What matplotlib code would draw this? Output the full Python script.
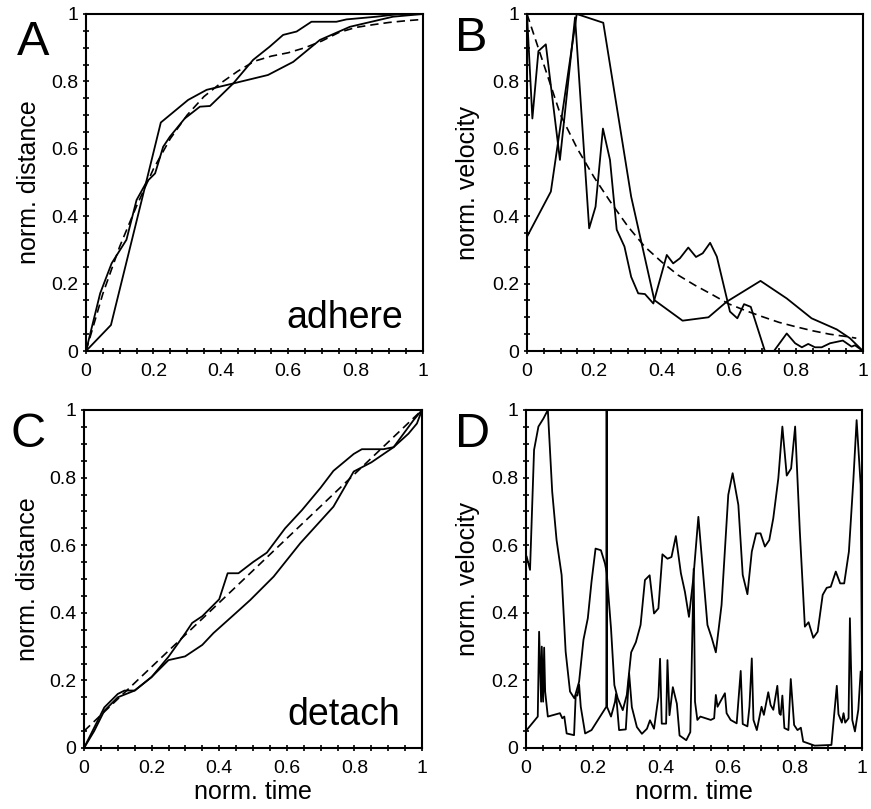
import matplotlib
matplotlib.use('Agg')
import matplotlib.pyplot as plt
from matplotlib.ticker import MultipleLocator, FixedLocator, FixedFormatter

plt.rcParams['font.family'] = ['Liberation Sans', 'DejaVu Sans']

# ---- data ----
tick_vals = [0, 0.2, 0.4, 0.6, 0.8, 1.0]
tick_labels = ['0', '0.2', '0.4', '0.6', '0.8', '1']

# A: adhere, normalised distance
a1_t = [0, 0.074, 0.18, 0.222, 0.303, 0.358, 0.437, 0.54, 0.615, 0.694, 0.783, 0.911, 1.0]
a1_d = [0, 0.077, 0.507, 0.678, 0.745, 0.775, 0.794, 0.819, 0.858, 0.923, 0.962, 0.992, 1.0]
a2_t = [0, 0.042, 0.076, 0.12, 0.15, 0.18, 0.205, 0.229, 0.249, 0.293, 0.338, 0.368, 0.397,
        0.437, 0.496, 0.545, 0.585, 0.625, 0.669, 0.743, 0.773, 0.862, 0.931, 1.0]
a2_d = [0, 0.171, 0.26, 0.33, 0.448, 0.502, 0.527, 0.606, 0.636, 0.69, 0.725, 0.727, 0.755,
        0.794, 0.864, 0.903, 0.938, 0.948, 0.977, 0.977, 0.984, 0.992, 1.0, 1.0]
a_fit_t = [0, 0.05, 0.1, 0.15, 0.2, 0.25, 0.3, 0.35, 0.4, 0.45, 0.5, 0.55, 0.6, 0.65, 0.7,
           0.75, 0.8, 0.85, 0.9, 0.95, 1.0]
a_fit_d = [0, 0.17, 0.31, 0.43, 0.54, 0.63, 0.7, 0.755, 0.795, 0.83, 0.86, 0.875, 0.885, 0.9,
           0.92, 0.945, 0.96, 0.968, 0.975, 0.98, 0.984]

# B: adhere, normalised velocity
b1_t = [0, 0.016, 0.034, 0.056, 0.098, 0.143, 0.185, 0.204, 0.226, 0.247, 0.267, 0.29, 0.31,
        0.331, 0.351, 0.376, 0.416, 0.435, 0.455, 0.48, 0.503, 0.523, 0.545, 0.565, 0.604,
        0.626, 0.646, 0.666, 0.708, 0.735, 0.773, 0.798, 0.818, 0.837, 0.857, 0.877, 0.902,
        0.94, 0.966, 0.976, 1.0]
b1_v = [1.0, 0.69, 0.89, 0.91, 0.567, 0.99, 0.364, 0.428, 0.66, 0.567, 0.36, 0.31, 0.22,
        0.171, 0.169, 0.141, 0.285, 0.26, 0.275, 0.307, 0.279, 0.29, 0.321, 0.28, 0.117,
        0.097, 0.139, 0.131, 0.0, 0.0, 0.052, 0.023, 0.011, 0.021, 0.011, 0.011, 0.023,
        0.031, 0.013, 0.017, 0.0]
b2_t = [0, 0.071, 0.148, 0.227, 0.31, 0.379, 0.463, 0.54, 0.594, 0.695, 0.773, 0.847, 0.922,
        0.961, 1.0]
b2_v = [0.339, 0.473, 1.0, 0.974, 0.458, 0.151, 0.09, 0.10, 0.146, 0.208, 0.156, 0.097, 0.064,
        0.038, 0.0]
b_fit_t = [0, 0.05, 0.1, 0.15, 0.2, 0.25, 0.3, 0.35, 0.4, 0.45, 0.5, 0.55, 0.6, 0.65, 0.7,
           0.75, 0.8, 0.85, 0.9, 0.95, 0.98]
b_fit_v = [1.0, 0.85, 0.7, 0.6, 0.515, 0.44, 0.37, 0.31, 0.265, 0.225, 0.195, 0.168, 0.14,
           0.12, 0.102, 0.085, 0.072, 0.06, 0.05, 0.043, 0.038]

# C: detach, normalised distance
c1_t = [0, 0.03, 0.06, 0.1, 0.12, 0.15, 0.2, 0.25, 0.3, 0.32, 0.35, 0.4, 0.425, 0.457, 0.5,
        0.541, 0.595, 0.645, 0.7, 0.738, 0.798, 0.822, 0.886, 0.916, 0.975, 1.0]
c1_d = [0, 0.06, 0.12, 0.16, 0.17, 0.17, 0.21, 0.27, 0.34, 0.37, 0.39, 0.44, 0.517, 0.517,
        0.55, 0.578, 0.65, 0.704, 0.77, 0.82, 0.87, 0.884, 0.884, 0.89, 0.97, 1.0]
c2_t = [0, 0.03, 0.06, 0.1, 0.15, 0.2, 0.25, 0.299, 0.35, 0.383, 0.45, 0.492, 0.561, 0.64,
        0.738, 0.798, 0.85, 0.916, 0.96, 0.985, 1.0]
c2_d = [0, 0.05, 0.11, 0.15, 0.17, 0.21, 0.26, 0.271, 0.305, 0.34, 0.40, 0.438, 0.507, 0.606,
        0.714, 0.818, 0.845, 0.89, 0.93, 0.96, 1.0]
c_fit_t = [0, 1.0]
c_fit_d = [0.05, 1.0]

# D: detach, normalised velocity
d1_t = [0.002, 0.012, 0.024, 0.037, 0.052, 0.065, 0.078, 0.091, 0.106, 0.118, 0.131, 0.144,
        0.158, 0.171, 0.184, 0.195, 0.207, 0.223, 0.235, 0.24, 0.253, 0.263, 0.273, 0.288,
        0.3, 0.313, 0.327, 0.341, 0.354, 0.368, 0.381, 0.394, 0.406, 0.421, 0.433, 0.446,
        0.461, 0.473, 0.485, 0.498, 0.513, 0.54, 0.553, 0.565, 0.582, 0.602, 0.615, 0.632,
        0.645, 0.659, 0.672, 0.685, 0.698, 0.711, 0.724, 0.736, 0.751, 0.763, 0.776, 0.789,
        0.801, 0.815, 0.83, 0.841, 0.855, 0.868, 0.883, 0.895, 0.907, 0.922, 0.935, 0.947,
        0.961, 0.974, 0.984, 0.996, 1.0]
d1_v = [0.566, 0.527, 0.882, 0.951, 0.975, 1.0, 0.758, 0.615, 0.512, 0.285, 0.167, 0.147,
        0.196, 0.32, 0.384, 0.492, 0.59, 0.585, 0.546, 0.52, 0.354, 0.186, 0.147, 0.112,
        0.157, 0.283, 0.313, 0.364, 0.497, 0.511, 0.398, 0.413, 0.573, 0.56, 0.565, 0.627,
        0.517, 0.462, 0.388, 0.502, 0.684, 0.364, 0.325, 0.283, 0.423, 0.749, 0.813, 0.719,
        0.512, 0.455, 0.581, 0.635, 0.635, 0.596, 0.615, 0.68, 0.798, 0.951, 0.806, 0.827,
        0.951, 0.64, 0.359, 0.372, 0.326, 0.344, 0.453, 0.474, 0.477, 0.522, 0.487, 0.487,
        0.581, 0.788, 0.97, 0.778, 0.226]
d2_t = [0.002, 0.035, 0.039, 0.045, 0.047, 0.051, 0.054, 0.057, 0.065, 0.101, 0.108, 0.114,
        0.121, 0.143, 0.148, 0.153, 0.158, 0.163, 0.176, 0.195, 0.239, 0.24, 0.241, 0.253,
        0.265, 0.268, 0.277, 0.297, 0.307, 0.315, 0.33, 0.345, 0.36, 0.369, 0.381, 0.394,
        0.399, 0.404, 0.417, 0.421, 0.427, 0.437, 0.449, 0.457, 0.477, 0.489, 0.499, 0.503,
        0.51, 0.519, 0.55, 0.56, 0.565, 0.57, 0.592, 0.597, 0.609, 0.627, 0.639, 0.645,
        0.659, 0.665, 0.672, 0.677, 0.687, 0.701, 0.708, 0.721, 0.728, 0.736, 0.748, 0.754,
        0.758, 0.763, 0.769, 0.781, 0.788, 0.798, 0.808, 0.818, 0.825, 0.859, 0.909, 0.925,
        0.93, 0.94, 0.945, 0.95, 0.96, 0.964, 0.971, 0.979, 0.989, 0.996]
d2_v = [0.053, 0.093, 0.344, 0.137, 0.3, 0.137, 0.297, 0.167, 0.093, 0.103, 0.088, 0.093,
        0.043, 0.038, 0.157, 0.155, 0.188, 0.122, 0.043, 0.053, 0.122, 1.0, 0.122, 0.093,
        0.137, 0.16, 0.053, 0.055, 0.22, 0.121, 0.062, 0.042, 0.057, 0.082, 0.057, 0.151,
        0.264, 0.072, 0.072, 0.26, 0.097, 0.18, 0.131, 0.037, 0.023, 0.047, 0.53, 0.137,
        0.083, 0.093, 0.083, 0.088, 0.157, 0.122, 0.162, 0.103, 0.083, 0.073, 0.228, 0.071,
        0.064, 0.122, 0.265, 0.083, 0.053, 0.122, 0.098, 0.165, 0.127, 0.113, 0.184, 0.103,
        0.098, 0.155, 0.059, 0.053, 0.204, 0.068, 0.053, 0.06, 0.019, 0.007, 0.009, 0.184,
        0.1, 0.075, 0.103, 0.075, 0.088, 0.384, 0.083, 0.049, 0.113, 0.226]

fig = plt.figure(figsize=(8.71, 8.09), dpi=100)

# axes boxes in pixels (left, top, right, bottom) measured on the reference
W, H = 871, 809
boxes = {
    'A': (86, 14, 423, 351),
    'B': (527, 14, 863, 351),
    'C': (84, 410, 422, 748),
    'D': (526, 410, 862, 748),
}


def make_ax(key):
    l, t, r, b = boxes[key]
    ax = fig.add_axes([l / W, 1 - b / H, (r - l) / W, (b - t) / H])
    ax.set_xlim(0, 1)
    ax.set_ylim(0, 1)
    for sp in ax.spines.values():
        sp.set_linewidth(1.5)
    ax.xaxis.set_major_locator(FixedLocator(tick_vals))
    ax.xaxis.set_major_formatter(FixedFormatter(tick_labels))
    ax.yaxis.set_major_locator(FixedLocator(tick_vals))
    ax.yaxis.set_major_formatter(FixedFormatter(tick_labels))
    ax.xaxis.set_minor_locator(MultipleLocator(0.05))
    ax.yaxis.set_minor_locator(MultipleLocator(0.05))
    ax.tick_params(which='both', direction='inout', length=5, width=1.2,
                   top=False, right=False, labelsize=14)
    ax.tick_params(axis='x', pad=6)
    ax.tick_params(axis='y', pad=3)
    return ax


solid = dict(color='black', lw=1.3)
dashed = dict(color='black', lw=1.2, ls=(0, (5, 3)))

axA = make_ax('A')
axA.plot(a1_t, a1_d, **solid)
axA.plot(a2_t, a2_d, **solid)
axA.plot(a_fit_t, a_fit_d, **dashed)
axA.set_ylabel('norm. distance', fontsize=18)
axA.yaxis.set_label_coords(-0.135, 0.5)
axA.text(0.94, 0.068, 'adhere', transform=axA.transAxes, fontsize=27,
         ha='right', va='baseline')

axB = make_ax('B')
axB.plot(b1_t, b1_v, **solid)
axB.plot(b2_t, b2_v, **solid)
axB.plot(b_fit_t, b_fit_v, **dashed)
axB.set_ylabel('norm. velocity', fontsize=18)
axB.yaxis.set_label_coords(-0.14, 0.5)

axC = make_ax('C')
axC.plot(c1_t, c1_d, **solid)
axC.plot(c2_t, c2_d, **solid)
axC.plot(c_fit_t, c_fit_d, **dashed)
axC.set_ylabel('norm. distance', fontsize=18)
axC.yaxis.set_label_coords(-0.13, 0.5)
axC.set_xlabel('norm. time', fontsize=18, labelpad=2)
axC.text(0.935, 0.068, 'detach', transform=axC.transAxes, fontsize=27,
         ha='right', va='baseline')

axD = make_ax('D')
axD.plot(d1_t, d1_v, **solid)
axD.plot(d2_t, d2_v, **solid)
axD.set_ylabel('norm. velocity', fontsize=18)
axD.yaxis.set_label_coords(-0.137, 0.5)
axD.set_xlabel('norm. time', fontsize=18, labelpad=2)

# panel letters
for letter, x, y in [('A', 17, 55), ('B', 455, 51), ('C', 10, 447), ('D', 455, 447)]:
    fig.text(x / W, 1 - y / H, letter, fontsize=35, ha='left', va='baseline')

fig.savefig('out.png', dpi=100)
